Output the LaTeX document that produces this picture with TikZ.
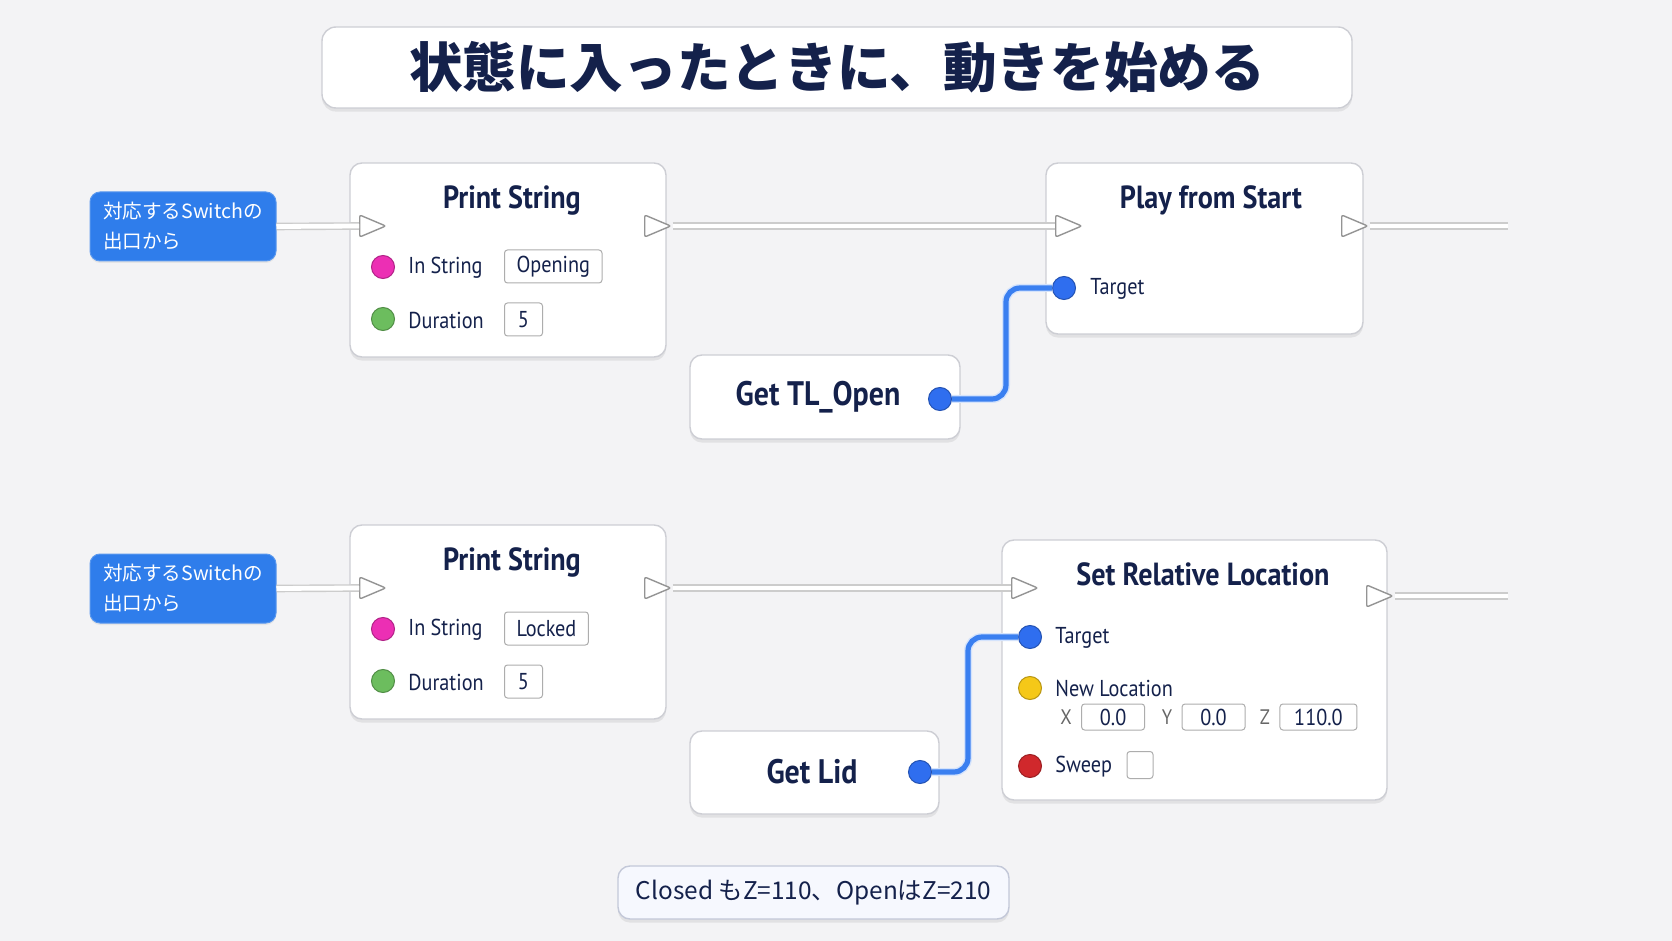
\documentclass[tikz,border=0pt]{standalone}
\usepackage{fontspec}
\setmainfont{PT Sans}[FakeStretch=0.88]
\newfontfamily\jp{Noto Sans CJK JP}
\usetikzlibrary{positioning,shapes.geometric,shadows}
\definecolor{bg}{HTML}{F3F3F5}
\definecolor{ink}{HTML}{14214B}
\definecolor{boxline}{HTML}{CDCED4}
\definecolor{noteblue}{HTML}{2F7DEB}
\definecolor{noteedge}{HTML}{5A98EE}
\definecolor{pinpink}{HTML}{EC2FB4}
\definecolor{pingreen}{HTML}{6CBD5E}
\definecolor{pinblue}{HTML}{2F6EEF}
\definecolor{pinyellow}{HTML}{F5C818}
\definecolor{pinred}{HTML}{D0282C}
\definecolor{wireblue}{HTML}{3A7FF0}
\definecolor{tipfill}{HTML}{F6F8FE}
\definecolor{tipline}{HTML}{C3C8D8}

\begin{document}
\begin{tikzpicture}[x=0.5pt,y=-0.5pt,
  box/.style={draw=boxline,fill=white,line width=0.7pt,rounded corners=6pt,
    drop shadow={shadow xshift=0pt,shadow yshift=-1.8pt,opacity=0.15}},
  note/.style={fill=noteblue,draw=noteedge,line width=0.5pt,rounded corners=5pt,
    text=white,font=\jp\fontsize{9.8}{15}\selectfont,align=left,
    text width=80pt,inner xsep=6.5pt,minimum height=34.5pt,
    drop shadow={shadow xshift=0pt,shadow yshift=-1pt,opacity=0.12}},
  title/.style={font=\bfseries\fontsize{16}{19}\selectfont,text=ink,inner sep=0pt},
  pintext/.style={font=\fontsize{11.5}{14}\selectfont,text=ink,anchor=west,inner sep=0pt},
  execpin/.style={isosceles triangle,isosceles triangle stretches,
    minimum width=11pt,minimum height=13pt,inner sep=0pt,
    draw=black!42,fill=white,line width=0.7pt,rounded corners=1pt},
  datapin/.style={circle,inner sep=0pt,minimum size=11.5pt,
    draw=#1!75!black,fill=#1,line width=0.5pt},
  field/.style={draw=black!32,fill=white,rounded corners=1.5pt,inner sep=0pt,
    minimum height=16.5pt,line width=0.5pt,font=\fontsize{11.5}{14}\selectfont,text=ink},
  execwire/.style={draw=black!20,double=white,double distance=2.4pt,line width=0.7pt},
  datawire/.style={draw=wireblue!22,double=wireblue,double distance=2.6pt,
    line width=0.7pt,rounded corners=7pt}]
 \fill[bg] (0,0) rectangle (1672,941);
 \useasboundingbox (0,0) rectangle (1672,941);

 \node[box,minimum width=515pt,minimum height=40.5pt,rounded corners=7pt,
   font=\jp\bfseries\fontsize{26.8}{30}\selectfont,text=ink] (head) at (837,67.5)
   {状態に入ったときに、動きを始める};

 \foreach \r/\dy/\s in {1/0/Opening,2/362/Locked}{
  \begin{scope}[shift={(0,\dy)}]
   \node[note] (note\r) at (183,226.5) {対応するSwitchの\\出口から};
   \node[box,minimum width=158pt,minimum height=97pt] (ps\r) at (508,260) {};
   \node[title] at (512,200) {Print String};
   \node[execpin] (psin\r) at (367,226) {};
   \node[execpin] (psout\r) at (652,226) {};
   \node[datapin=pinpink] (str\r) at (383,267) {};
   \node[pintext] at (408,268) {In String};
   \node[field,anchor=west,inner xsep=6pt] at (504,266.5) {\s};
   \node[datapin=pingreen] (dur\r) at (383,319) {};
   \node[pintext] at (408,320) {Duration};
   \node[field,anchor=west,minimum width=19pt] at (504,319.5) {5};
  \end{scope}
 }

 \node[box,minimum width=158.5pt,minimum height=85.5pt] (pfs) at (1204.5,248.5) {};
 \node[title] at (1211,200) {Play from Start};
 \node[execpin] (pfsin) at (1063,226) {};
 \node[execpin] (pfsout) at (1349,226) {};
 \coordinate (pfsend) at (1508,226);
 \node[datapin=pinblue] (tgt1) at (1064,288) {};
 \node[pintext] at (1090,289) {Target};

 \node[box,minimum width=135pt,minimum height=42pt] (gettl) at (825,397) {};
 \node[title,font=\bfseries\fontsize{17}{20}\selectfont] at (818,397) {Get TL\_Open};
 \node[datapin=pinblue] (tlpin) at (940,399) {};

 \node[box,minimum width=192.5pt,minimum height=130pt] (srl) at (1194.5,670) {};
 \node[title] at (1203,574) {Set Relative Location};
 \node[execpin] (srlin) at (1019,588) {};
 \node[execpin] (srlout) at (1374,596) {};
 \coordinate (srlend) at (1508,596);
 \node[datapin=pinblue] (tgt2) at (1030,637) {};
 \node[pintext] at (1055,638) {Target};
 \node[datapin=pinyellow] (loc) at (1030,688) {};
 \node[pintext] at (1055,688) {New Location};
 \foreach \a/\x/\v/\w in {X/1066/0.0/31.5,Y/1167/0.0/31.5,Z/1265/110.0/38.5}{
   \node[font=\fontsize{10.5}{12}\selectfont,text=black!60,inner sep=0pt] (ax\a) at (\x,717) {\a};
   \node[field,minimum width=\w pt,minimum height=13pt,right=4.5pt of ax\a] (val\a) {\v};
 }
 \node[datapin=pinred] (sweep) at (1030,766) {};
 \node[pintext] at (1055,767) {Sweep};
 \node[field,minimum width=13pt,minimum height=13.5pt] (chk) at (1140,765) {};

 \node[box,minimum width=124.5pt,minimum height=41.5pt] (getlid) at (814.5,772.5) {};
 \node[title,font=\bfseries\fontsize{17}{20}\selectfont] at (812,772) {Get Lid};
 \node[datapin=pinblue] (lidpin) at (920,772) {};

 \node[box,fill=tipfill,draw=tipline,minimum width=195.5pt,minimum height=26.5pt,
   font=\jp\fontsize{12.2}{14}\selectfont,text=ink] (tip) at (813.5,892.5)
   {Closed もZ=110、OpenはZ=210};

 \draw[execwire] (note1.east) -- (psin1.west);
 \draw[execwire] (psout1.east) -- (pfsin.west);
 \draw[execwire] (pfsout.east) -- (pfsend);
 \draw[execwire] (note2.east) -- (psin2.west);
 \draw[execwire] (psout2.east) -- (srlin.west);
 \draw[execwire] (srlout.east) -- (srlend);
 \draw[datawire] (tlpin.east) -- ++(54,0) |- (tgt1.west);
 \draw[datawire] (lidpin.east) -- ++(36,0) |- (tgt2.west);
\end{tikzpicture}
\end{document}
